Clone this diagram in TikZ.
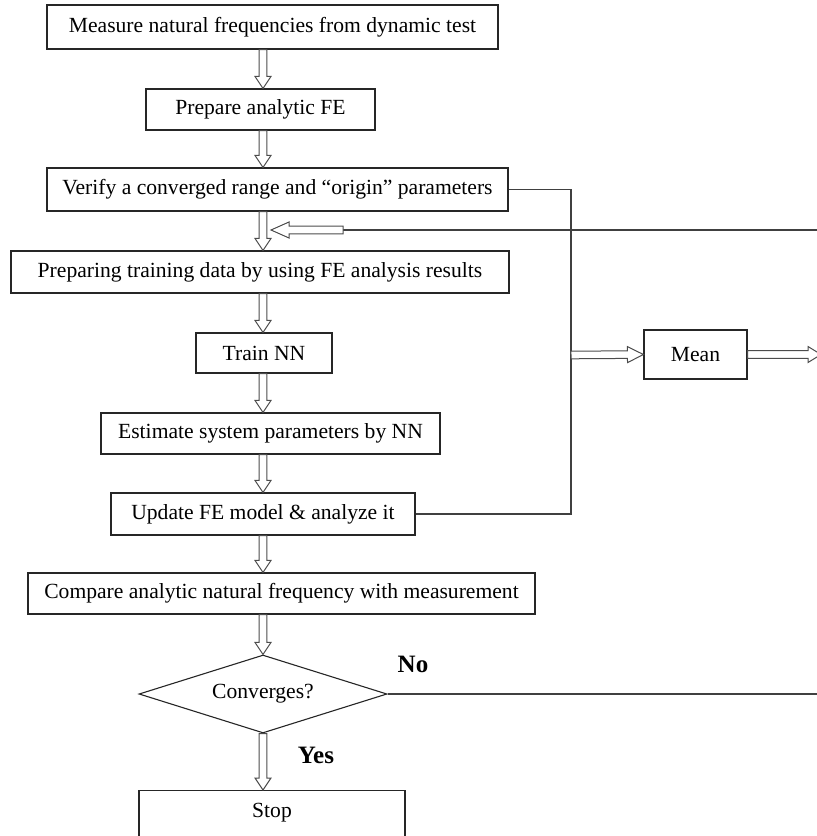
\documentclass[tikz,border=0pt]{standalone}
\usepackage{fontspec}
\setmainfont{Liberation Serif}
\usetikzlibrary{calc,shapes.geometric}
\begin{document}
\begin{tikzpicture}[x=1pt,y=-1pt,
  box/.style={draw=black!85, line width=1.1pt, fill=white, inner sep=0pt,
    font=\fontsize{21.6}{25}\selectfont},
  link/.style={draw=black!75, line width=1.2pt},
  % outlined block arrow: shaft with an open triangular head
  hollow/.style={draw=black!70, line width=1pt, fill=white, line join=miter,
    to path={($(\tikztotarget)!#1!(\tikztostart)$) coordinate (hh)
      ($(\tikztostart)!3.8pt!90:(\tikztotarget)$)
      -- ($(hh)!3.8pt!90:(\tikztotarget)$)
      -- ($(hh)!8pt!90:(\tikztotarget)$)
      -- (\tikztotarget)
      -- ($(hh)!8pt!-90:(\tikztotarget)$)
      -- ($(hh)!3.8pt!-90:(\tikztotarget)$)
      -- ($(\tikztostart)!3.8pt!-90:(\tikztotarget)$) -- cycle}},
  hollow/.default=12pt,
  tag/.style={font=\fontsize{25}{29}\selectfont\bfseries}]

\useasboundingbox (0,0) rectangle (817,836);

% process steps
\node[box, minimum width=451pt, minimum height=44pt] (m1) at (272.5,27)
  {Measure natural frequencies from dynamic test};
\node[box, minimum width=229pt, minimum height=41pt] (m2) at (260.5,109.5)
  {Prepare analytic FE};
\node[box, minimum width=461pt, minimum height=43pt] (m3) at (277.5,189.5)
  {Verify a converged range and “origin” parameters};
\node[box, minimum width=498pt, minimum height=42pt] (m4) at (260,272)
  {Preparing training data by using FE analysis results};
\node[box, minimum width=136pt, minimum height=40pt] (m5) at (264,353)
  {Train NN};
\node[box, minimum width=339pt, minimum height=41pt] (m6) at (270.5,433.5)
  {Estimate system parameters by NN};
\node[box, minimum width=304pt, minimum height=42pt] (m7) at (263,514)
  {Update FE model \& analyze it};
\node[box, minimum width=507pt, minimum height=41pt] (m8) at (281.5,593.5)
  {Compare analytic natural frequency with measurement};
\node[box, diamond, aspect=3.2, minimum width=248pt, minimum height=78pt] (dec) at (263,694)
  {Converges?};
\node[box, anchor=north, minimum width=266pt, text height=27pt, text depth=33pt] (stop) at (272,790)
  {Stop};
\node[box, minimum width=103pt, minimum height=49pt] (mean) at (695.5,354.5)
  {Mean};

% main flow
\coordinate (spine) at (263,0);
\foreach \a/\b in {m1/m2, m2/m3, m3/m4, m4/m5, m5/m6, m6/m7, m7/m8, m8/dec, dec/stop}
  \draw[hollow] (\a.south -| spine) to (\b.north -| spine);

% loop back from the right
\coordinate (fbin) at (817,230);
\coordinate (fbmid) at (343,230);
\coordinate (fbtip) at (271,230);
\draw[link] (fbin) -- (fbmid);
\draw[hollow=18pt] (fbmid) to (fbtip);

% side branch to the mean
\coordinate (bus) at (571,355);
\draw[link] (m3.east) -| (bus) |- (m7.east);
\draw[hollow=16pt] (bus) to (mean.west);
\coordinate (meanout) at (821,354.5);
\draw[hollow=13pt] (mean.east) to (meanout);

% decision outcomes
\coordinate (noout) at (817,694);
\draw[link] (dec.east) -- (noout);
\node[tag] (no) at (413,664) {No};
\node[tag] (yes) at (316,755) {Yes};
\end{tikzpicture}
\end{document}
